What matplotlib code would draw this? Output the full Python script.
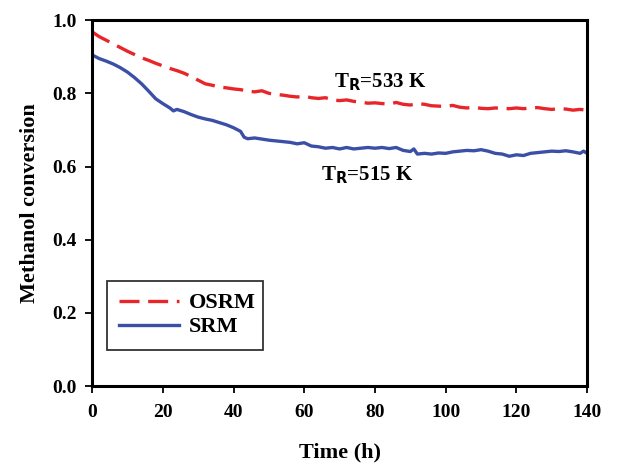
import matplotlib
matplotlib.use("Agg")
import matplotlib.pyplot as plt

plt.rcParams['font.family'] = ['Liberation Serif', 'DejaVu Serif']
plt.rcParams['font.weight'] = 'bold'

# Methanol conversion vs time on stream
srm_t = [0, 2, 4, 6, 8, 10, 12, 14, 16, 18, 20, 22, 23, 24, 26, 28, 30, 32, 34, 36,
         38, 40, 42, 43, 44, 46, 48, 50, 52, 54, 56, 58, 60, 62, 64, 66, 68, 70, 72,
         74, 76, 78, 80, 82, 84, 86, 88, 90, 91, 92, 94, 96, 98, 100, 102, 104, 106,
         108, 110, 112, 114, 116, 118, 120, 122, 124, 126, 128, 130, 132, 134, 136,
         138, 139, 140]
srm_x = [0.905, 0.895, 0.888, 0.880, 0.870, 0.858, 0.843, 0.826, 0.806, 0.785, 0.772,
         0.760, 0.752, 0.756, 0.750, 0.742, 0.735, 0.730, 0.726, 0.720, 0.714, 0.706,
         0.696, 0.680, 0.676, 0.678, 0.675, 0.672, 0.670, 0.668, 0.666, 0.662, 0.665,
         0.656, 0.654, 0.650, 0.652, 0.648, 0.652, 0.648, 0.650, 0.652, 0.650, 0.652,
         0.649, 0.652, 0.644, 0.641, 0.648, 0.634, 0.636, 0.634, 0.637, 0.636, 0.640,
         0.642, 0.644, 0.643, 0.646, 0.642, 0.636, 0.634, 0.628, 0.632, 0.630, 0.636,
         0.638, 0.640, 0.642, 0.641, 0.643, 0.640, 0.636, 0.642, 0.636]

osrm_t = [0, 2, 4, 6, 8, 10, 12, 14, 16, 18, 20, 22, 24, 26, 28, 30, 32, 34, 36, 38,
          40, 42, 44, 46, 48, 50, 52, 54, 56, 58, 60, 62, 64, 66, 68, 70, 72, 74, 76,
          78, 80, 82, 84, 86, 88, 90, 92, 94, 96, 98, 100, 102, 104, 106, 108, 110,
          112, 114, 116, 118, 120, 122, 124, 126, 128, 130, 132, 134, 136, 138, 140]
osrm_x = [0.968, 0.955, 0.945, 0.935, 0.925, 0.915, 0.906, 0.897, 0.890, 0.882, 0.875,
          0.868, 0.862, 0.855, 0.846, 0.836, 0.826, 0.822, 0.817, 0.815, 0.812, 0.810,
          0.806, 0.804, 0.807, 0.800, 0.797, 0.795, 0.792, 0.790, 0.792, 0.788, 0.786,
          0.788, 0.782, 0.780, 0.782, 0.778, 0.776, 0.773, 0.774, 0.772, 0.771, 0.775,
          0.770, 0.768, 0.772, 0.770, 0.766, 0.765, 0.764, 0.767, 0.762, 0.760, 0.762,
          0.759, 0.758, 0.760, 0.759, 0.758, 0.760, 0.758, 0.760, 0.761, 0.758, 0.756,
          0.758, 0.757, 0.754, 0.756, 0.754]

x_ticks = [0, 20, 40, 60, 80, 100, 120, 140]
y_ticks = [0.0, 0.2, 0.4, 0.6, 0.8, 1.0]

fig = plt.figure(figsize=(6.18, 4.68), dpi=100)
ax = fig.add_axes([0.149, 0.175, 0.801, 0.782])

ax.plot(osrm_t, osrm_x, color='#e8262a', lw=2.4, dashes=(6, 2.6), label='OSRM')
ax.plot(srm_t, srm_x, color='#3b4fa6', lw=2.4, label='SRM')

ax.set_xlim(0, 140)
ax.set_ylim(0, 1.0)
ax.set_xticks(x_ticks)
ax.set_yticks(y_ticks)
ax.set_xticklabels([str(v) for v in x_ticks])
ax.set_yticklabels([f"{v:.1f}" for v in y_ticks])
ax.tick_params(direction='out', length=5, width=1.3, labelsize=14)
ax.tick_params(axis='x', pad=8)
ax.tick_params(axis='y', pad=6)
for s in ax.spines.values():
    s.set_linewidth(2.2)

ax.set_xlabel('Time (h)', fontsize=16, fontweight='bold', labelpad=15)
ax.set_ylabel('Methanol conversion', fontsize=16, fontweight='bold', labelpad=9)

ax.text(81.5, 0.83, r'T$_{\mathbf{R}}$=533 K', fontsize=15, fontweight='bold',
        ha='center', va='center')
ax.text(77.8, 0.575, r'T$_{\mathbf{R}}$=515 K', fontsize=15, fontweight='bold',
        ha='center', va='center')

leg = ax.legend(loc='lower left', bbox_to_anchor=(0.03, 0.10, 0.315, 0.194),
                mode='expand', fontsize=16, frameon=True, fancybox=False,
                edgecolor='black', handlelength=2.7, handletextpad=0.45,
                borderpad=0.55, labelspacing=0.15, borderaxespad=0)
leg.get_frame().set_linewidth(1.3)

fig.savefig('out.png', dpi=100)
